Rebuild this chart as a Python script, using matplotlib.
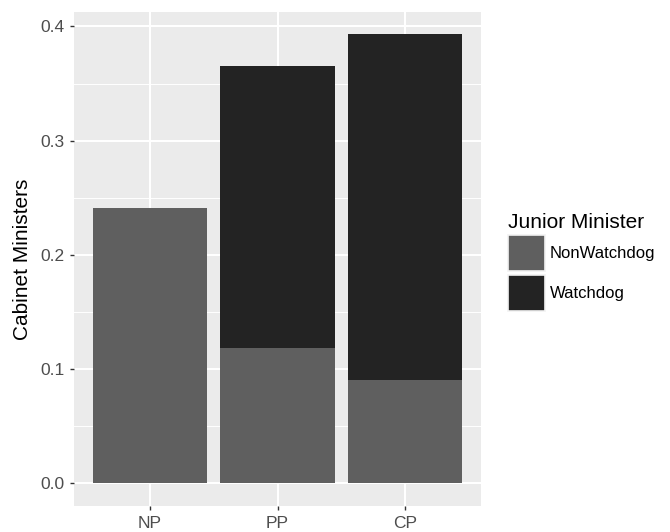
import matplotlib.pyplot as plt
import numpy as np
from matplotlib.patches import Patch

# Share of cabinet ministers by party type, split by junior minister type
parties = ["NP", "PP", "CP"]
non_watchdog = [0.241, 0.118, 0.090]
watchdog = [0.0, 0.247, 0.303]

fill_non = "#5f5f5f"
fill_watch = "#232323"

plt.rcParams["font.family"] = ["Liberation Sans", "DejaVu Sans"]

W, H = 670, 532
fig = plt.figure(figsize=(W / 100, H / 100), dpi=100)
left, right, top, bottom = 73.5, 481.5, 12, 505.7
ax = fig.add_axes([left / W, 1 - bottom / H, (right - left) / W, (bottom - top) / H])

x = np.arange(len(parties))
ax.bar(x, non_watchdog, width=0.9, color=fill_non, zorder=3)
ax.bar(x, watchdog, width=0.9, bottom=non_watchdog, color=fill_watch, zorder=3)

totals = np.array(non_watchdog) + np.array(watchdog)
ymax = totals.max()
pad = ymax * 0.05
ax.set_ylim(-pad, ymax + pad)
ax.set_xlim(-0.6, len(parties) - 0.4)

ax.set_facecolor("#ebebeb")
for s in ax.spines.values():
    s.set_visible(False)

ax.set_yticks([0.0, 0.1, 0.2, 0.3, 0.4])
ax.set_yticklabels(["0.0", "0.1", "0.2", "0.3", "0.4"])
ax.set_yticks([0.05, 0.15, 0.25, 0.35], minor=True)
ax.set_xticks(x)
ax.set_xticklabels(parties)

ax.grid(which="major", color="white", linewidth=1.5, zorder=0)
ax.grid(which="minor", axis="y", color="white", linewidth=0.7, zorder=0)
ax.set_axisbelow(True)

ax.tick_params(which="major", length=3.2, width=1.0, color="#333333",
               labelsize=12.5, labelcolor="#4d4d4d", pad=3)
ax.tick_params(axis="x", pad=4)
ax.tick_params(which="minor", length=0)

ax.set_ylabel("Cabinet Ministers", fontsize=15, color="black", labelpad=6)

handles = [Patch(facecolor=fill_non, edgecolor="#f2f2f2", linewidth=1.2),
           Patch(facecolor=fill_watch, edgecolor="#f2f2f2", linewidth=1.2)]
leg = fig.legend(handles, ["NonWatchdog", "Watchdog"], title="Junior Minister",
                 loc="upper left", bbox_to_anchor=(503 / W, 1 - 208 / H),
                 frameon=False, fontsize=12, title_fontsize=15,
                 handlelength=2.2, handleheight=2.95, handletextpad=0.3,
                 labelspacing=0.2, borderpad=0.3, borderaxespad=0)
leg._legend_box.align = "left"

fig.savefig("out.png", dpi=100)
